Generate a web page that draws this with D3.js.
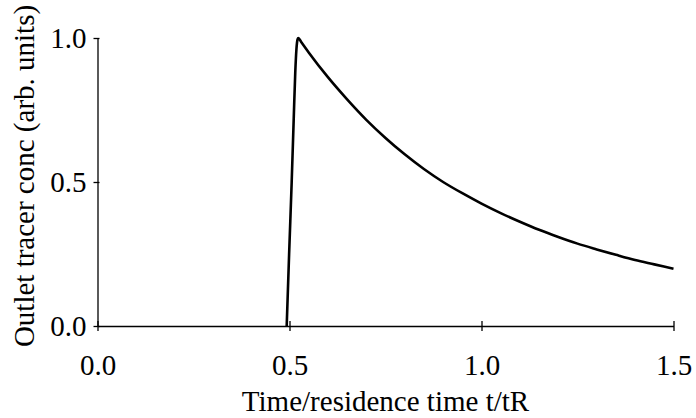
<!DOCTYPE html>
<html>
<head>
<meta charset="utf-8">
<script src="https://cdn.jsdelivr.net/npm/d3@7"></script>
<style>
  html, body { margin: 0; padding: 0; background: #fff; }
  text { font-family: "Liberation Serif", "Times New Roman", serif; }
</style>
</head>
<body>
<svg id="chart" width="696" height="418"></svg>
<script>
// Data
const timeRatio = [0.4927, 0.499, 0.5057, 0.511, 0.515, 0.518, 0.521, 0.523, 0.530, 0.55, 0.60, 0.65, 0.70, 0.75, 0.80, 0.85, 0.90, 0.95, 1.00, 1.05, 1.10, 1.15, 1.20, 1.25, 1.30, 1.35, 1.40, 1.45, 1.50];
const concentration = [0.0, 0.25, 0.50, 0.72, 0.88, 0.96, 0.995, 1.0, 0.987, 0.950, 0.864, 0.787, 0.716, 0.653, 0.596, 0.545, 0.500, 0.461, 0.425, 0.392, 0.362, 0.334, 0.309, 0.286, 0.266, 0.247, 0.229, 0.214, 0.199];
const xTicks = [0.0, 0.5, 1.0, 1.5];
const yTicks = [0.0, 0.5, 1.0];
const xTitle = "Time/residence time t/tR";
const yTitle = "Outlet tracer conc (arb. units)";

const svg = d3.select("#chart");
const x = d3.scaleLinear().domain([0, 1.5]).range([97.5, 673.5]);
const y = d3.scaleLinear().domain([0, 1.0]).range([326, 38]);
const fs = 29;

// X axis
const xg = svg.append("g").attr("transform", `translate(0,${y(0)})`)
  .call(d3.axisBottom(x).tickValues(xTicks).tickFormat(d3.format(".1f")).tickSize(5).tickSizeOuter(0).tickPadding(0));
xg.select(".domain").attr("stroke", "#000").attr("stroke-width", 1.3);
xg.selectAll(".tick line").attr("stroke", "#000").attr("stroke-width", 1.3).attr("y1", -5).attr("y2", 5);
xg.selectAll(".tick text").attr("font-size", fs).attr("fill", "#000")
  .attr("dy", null).attr("y", 49);

// Y axis
const yg = svg.append("g").attr("transform", `translate(${x(0)},0)`)
  .call(d3.axisLeft(y).tickValues(yTicks).tickFormat(d3.format(".1f")).tickSize(4).tickSizeOuter(0).tickPadding(0));
yg.select(".domain").attr("stroke", "#000").attr("stroke-width", 1.3);
yg.selectAll(".tick line").attr("stroke", "#000").attr("stroke-width", 1.3).attr("x1", 2).attr("x2", -4);
yg.selectAll(".tick text").attr("font-size", fs).attr("fill", "#000")
  .attr("x", -11).attr("dy", "0.34em");

// Axis titles
svg.append("text").attr("x", (x(0) + x(1.5)) / 2).attr("y", 411)
  .attr("text-anchor", "middle").attr("font-size", fs).attr("fill", "#000").text(xTitle);
svg.append("text").attr("transform", "translate(34,176) rotate(-90)")
  .attr("text-anchor", "middle").attr("font-size", fs).attr("fill", "#000").text(yTitle);

// Curve
const pts = timeRatio.map((t, i) => [t, concentration[i]]);
const line = d3.line().x(d => x(d[0])).y(d => y(d[1])).curve(d3.curveMonotoneX);
svg.append("path").datum(pts).attr("d", line)
  .attr("fill", "none").attr("stroke", "#000").attr("stroke-width", 2.6)
  .attr("stroke-linejoin", "round").attr("stroke-linecap", "butt");
</script>
</body>
</html>
